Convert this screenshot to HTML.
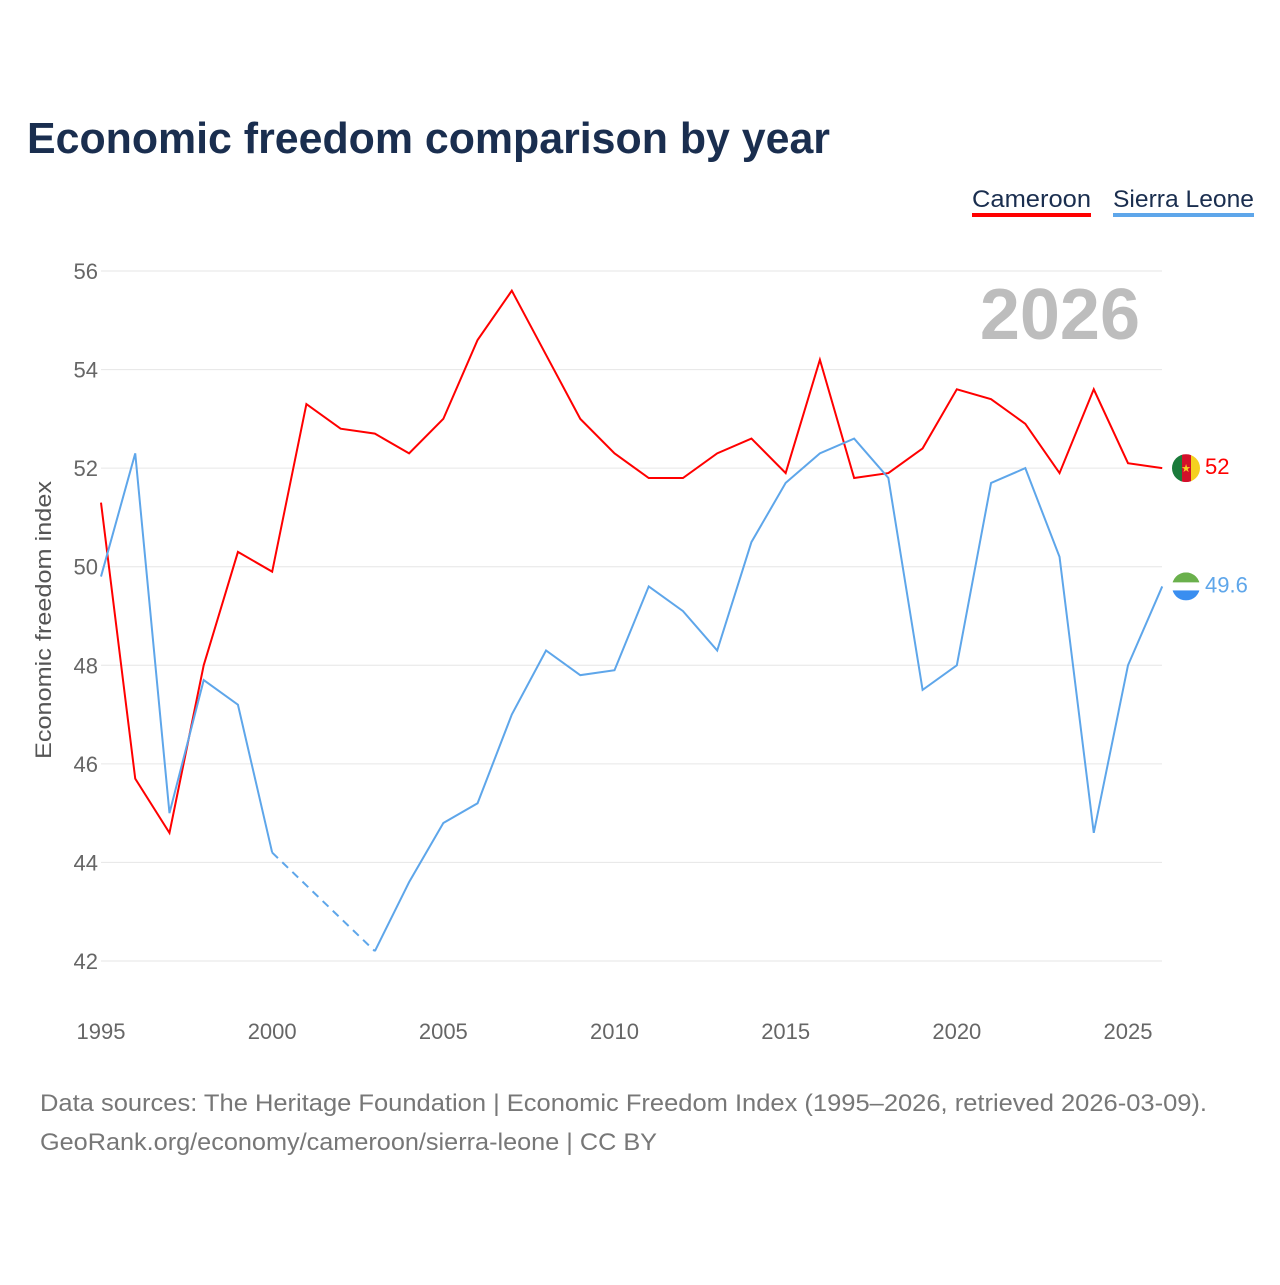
<!DOCTYPE html>
<html><head><meta charset="utf-8"><style>
body{margin:0;background:#fff;width:1280px;height:1280px;overflow:hidden;font-family:"Liberation Sans",sans-serif}
svg text{font-family:"Liberation Sans",sans-serif}
</style></head><body>
<svg id="c" width="1280" height="1280">
<defs><clipPath id="cf1"><circle cx="1186" cy="468" r="14"/></clipPath><clipPath id="cf2"><circle cx="1186" cy="587" r="14"/></clipPath></defs>
<text x="27" y="153" font-size="44" font-weight="bold" fill="#1a2e4f" textLength="803" lengthAdjust="spacingAndGlyphs">Economic freedom comparison by year</text>
<g><text x="972" y="207" font-size="24" fill="#1a2e4f" textLength="119" lengthAdjust="spacingAndGlyphs">Cameroon</text><rect x="972" y="213" width="119" height="4" fill="#ff0000"/></g>
<g><text x="1113" y="207" font-size="24" fill="#1a2e4f" textLength="141" lengthAdjust="spacingAndGlyphs">Sierra Leone</text><rect x="1113" y="213" width="141" height="4" fill="#5ea6ea"/></g>
<text x="1140" y="339" text-anchor="end" font-size="72" font-weight="bold" fill="#bdbdbd">2026</text>
<g id="grid"></g><g id="xt"></g><g id="lines"></g>
<text transform="translate(51,620) rotate(-90)" text-anchor="middle" font-size="22" fill="#555" textLength="278" lengthAdjust="spacingAndGlyphs">Economic freedom index</text>
<text x="40" y="1111" font-size="24" fill="#777" textLength="1167" lengthAdjust="spacingAndGlyphs">Data sources: The Heritage Foundation | Economic Freedom Index (1995–2026, retrieved 2026-03-09).</text>
<text x="40" y="1150" font-size="24" fill="#777" textLength="617" lengthAdjust="spacingAndGlyphs">GeoRank.org/economy/cameroon/sierra-leone | CC BY</text>
</svg>
<script>
const years=[];for(let y=1995;y<=2026;y++)years.push(y);
const cameroon=[51.3,45.7,44.6,48.0,50.3,49.9,53.3,52.8,52.7,52.3,53.0,54.6,55.6,54.3,53.0,52.3,51.8,51.8,52.3,52.6,51.9,54.2,51.8,51.9,52.4,53.6,53.4,52.9,51.9,53.6,52.1,52.0];
const sierraLeone=[49.8,52.3,45.0,47.7,47.2,44.2,null,null,42.2,43.6,44.8,45.2,47.0,48.3,47.8,47.9,49.6,49.1,48.3,50.5,51.7,52.3,52.6,51.8,47.5,48.0,51.7,52.0,50.2,44.6,48.0,49.6];
const yTicks=[42,44,46,48,50,52,54,56];
const xTicks=[1995,2000,2005,2010,2015,2020,2025];
const NS='http://www.w3.org/2000/svg';
const X=v=>101+(v-1995)*(1027/30), Y=v=>961-(v-42)*(690/14);
function mk(t,a,p){const e=document.createElementNS(NS,t);for(const k in a)e.setAttribute(k,a[k]);p.appendChild(e);return e;}
const g=document.getElementById('grid'),xt=document.getElementById('xt'),L=document.getElementById('lines');
yTicks.forEach(v=>{const l=mk('line',{x1:101,x2:1162,y1:Y(v),y2:Y(v),stroke:'#e6e6e6'},g);


const t=mk('text',{x:98,y:Y(v)+8,'text-anchor':'end','font-size':22,fill:'#666'},g);t.textContent=v;

});
xTicks.forEach(v=>{const t=mk('text',{x:X(v),y:1039,'text-anchor':'middle','font-size':22,fill:'#666'},xt);t.textContent=v;

});
function draw(vals,color,name){
 let seg=[],prev=null;const segs=[];
 vals.forEach((v,i)=>{if(v==null){if(seg.length)segs.push(seg);seg=[];return;}
  if(seg.length===0&&prev!=null&&prev.i<i-1){const d=mk('path',{d:`M${X(years[prev.i])},${Y(prev.v)}L${X(years[i])},${Y(v)}`,stroke:color,'stroke-width':2,fill:'none','stroke-dasharray':'8,6'},L);
   
   }
  seg.push([X(years[i]),Y(v)]);prev={i,v};});
 if(seg.length)segs.push(seg);
 segs.forEach(s=>{const p=mk('path',{d:'M'+s.map(q=>q.join(',')).join('L'),stroke:color,'stroke-width':2,fill:'none'},L);
  
  });
 const last=vals[vals.length-1],cy=Y(last),cx=1186;
 const t=mk('text',{x:1205,y:cy+6,'font-size':22,fill:color},L);t.textContent=last;
 
 
 return [cx,cy];}
const [c1x,c1y]=draw(cameroon,'#ff0000','cameroon');
document.querySelector('#cf1 circle').setAttribute('cy',c1y);
const f1=mk('g',{'clip-path':'url(#cf1)'},L);


mk('rect',{x:c1x-14,y:c1y-14,width:10,height:28,fill:'#1a7a3a'},f1);
mk('rect',{x:c1x-4,y:c1y-14,width:9,height:28,fill:'#d2102a'},f1);
mk('rect',{x:c1x+5,y:c1y-14,width:9,height:28,fill:'#f5d020'},f1);
mk('text',{x:c1x,y:c1y+4,'font-size':11,fill:'#f5d020','text-anchor':'middle'},f1).textContent='★';
const [c2x,c2y]=draw(sierraLeone,'#5ea6ea','sierra-leone');
document.querySelector('#cf2 circle').setAttribute('cy',c2y);
const f2=mk('g',{'clip-path':'url(#cf2)'},L);


mk('rect',{x:c2x-14,y:c2y-14,width:28,height:10,fill:'#6ab04c'},f2);
mk('rect',{x:c2x-14,y:c2y-4,width:28,height:8,fill:'#fff'},f2);
mk('rect',{x:c2x-14,y:c2y+4,width:28,height:10,fill:'#3a8ef0'},f2);
</script>
</body></html>
